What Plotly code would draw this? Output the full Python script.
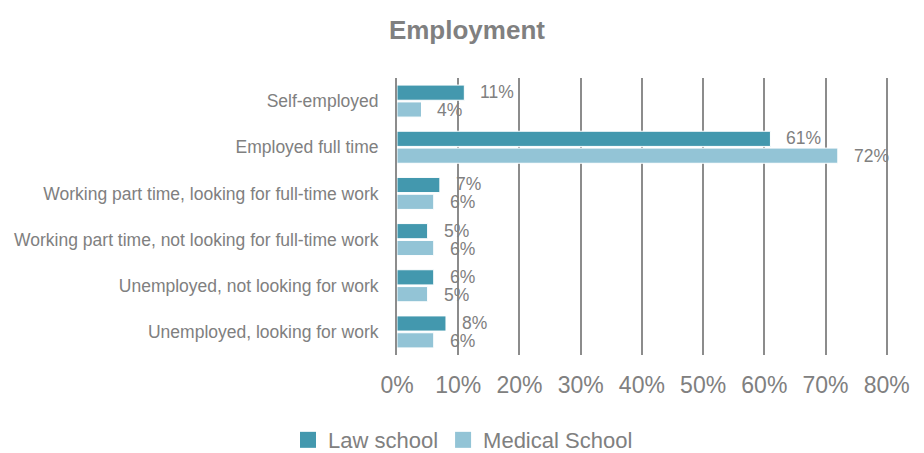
import plotly.graph_objects as go

categories = [
    "Self-employed",
    "Employed full time",
    "Working part time, looking for full-time work",
    "Working part time, not looking for full-time work",
    "Unemployed, not looking for work",
    "Unemployed, looking for work",
]
law_school = [11, 61, 7, 5, 6, 8]
medical_school = [4, 72, 6, 6, 5, 6]
x_ticks = [0, 10, 20, 30, 40, 50, 60, 70, 80]
x_tick_labels = [f"{t}%" for t in x_ticks]
series_names = ["Law school", "Medical School"]

LAW_COLOR = "#4398AE"
MED_COLOR = "#93C4D6"
TEXT = "#808080"
FONT = "Liberation Sans, Arial, sans-serif"

fig = go.Figure()
for name, vals, col in zip(series_names, [law_school, medical_school], [LAW_COLOR, MED_COLOR]):
    fig.add_trace(go.Bar(y=categories, x=vals, name=name, orientation="h", showlegend=False,
                         marker=dict(color=col, line=dict(color="white", width=1))))
# legend-only entries with larger square swatches
for name, col in zip(series_names, [LAW_COLOR, MED_COLOR]):
    fig.add_trace(go.Scatter(x=[None], y=[None], mode="markers", name=name, showlegend=True,
                             marker=dict(symbol="square", size=16, color=col)))

annotations = []
for cat, v in zip(categories, law_school):
    annotations.append(dict(x=v, y=cat, text=f"{v}%", xanchor="left", yanchor="middle",
                            xshift=14, yshift=9, showarrow=False,
                            font=dict(size=17.5, color=TEXT, family=FONT)))
for cat, v in zip(categories, medical_school):
    annotations.append(dict(x=v, y=cat, text=f"{v}%", xanchor="left", yanchor="middle",
                            xshift=14, yshift=-9, showarrow=False,
                            font=dict(size=17.5, color=TEXT, family=FONT)))

# The page body adds an 8px offset; size the figure so it fits the 924x453 window.
fig.update_layout(
    width=916, height=445,
    paper_bgcolor="white", plot_bgcolor="white",
    margin=dict(l=389, r=36, t=70, b=98, autoexpand=False),
    barmode="group", bargap=0.27, bargroupgap=0.1,
    title=dict(text="<b>Employment</b>", x=0.501, xanchor="center", y=0.951, yanchor="middle",
               font=dict(size=26, color=TEXT, family=FONT)),
    font=dict(family=FONT, color=TEXT),
    showlegend=True,
    legend=dict(orientation="h", x=-0.222, xanchor="left", y=-0.307, yanchor="middle",
                font=dict(size=22, color=TEXT, family=FONT), traceorder="normal",
                bgcolor="rgba(0,0,0,0)", itemwidth=30),
    annotations=annotations,
    xaxis=dict(range=[0, 80.2], tickvals=x_ticks, ticktext=x_tick_labels, showgrid=True,
               gridcolor="#8C8C8C", gridwidth=2, zeroline=False, showline=False,
               tickfont=dict(size=23, color=TEXT, family=FONT), ticklabelstandoff=14),
    yaxis=dict(autorange="reversed", showgrid=False, showline=True, linecolor="#8C8C8C",
               linewidth=2, tickfont=dict(size=17.5, color=TEXT, family=FONT),
               ticklabelstandoff=13),
)

fig.write_html("out.html")
